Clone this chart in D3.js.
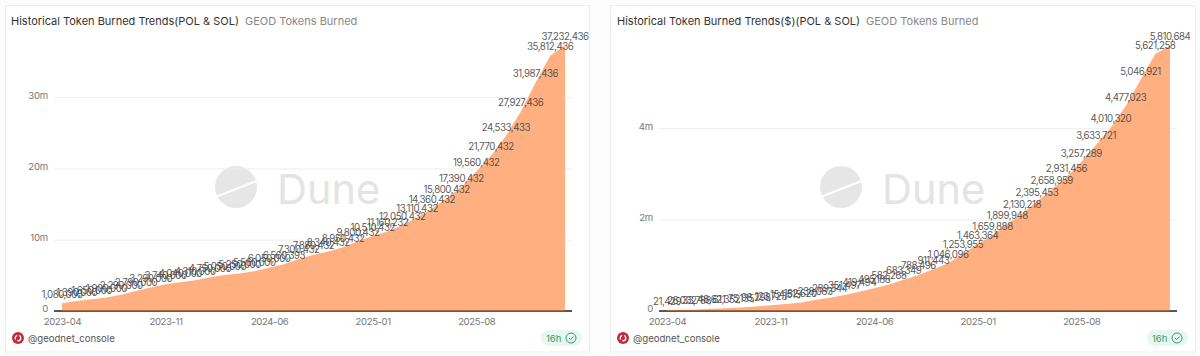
<!DOCTYPE html>
<html><head><meta charset="utf-8">
<script src="https://cdn.jsdelivr.net/npm/d3@7"></script>
<style>
html,body{margin:0;padding:0;background:#fcfcfc;width:1200px;height:356px;overflow:hidden}
svg{display:block}
text{font-family:Inter,"Noto Sans",sans-serif}
</style></head><body><svg id="c" width="1200" height="356"></svg>
<script>
const months = ["2023-04","2023-05","2023-06","2023-07","2023-08","2023-09","2023-10","2023-11","2023-12","2024-01","2024-02","2024-03","2024-04","2024-05","2024-06","2024-07","2024-08","2024-09","2024-10","2024-11","2024-12","2025-01","2025-02","2025-03","2025-04","2025-05","2025-06","2025-07","2025-08","2025-09","2025-10","2025-11","2025-12","2026-01","2026-02"];
const xTicks = ["2023-04","2023-11","2024-06","2025-01","2025-08"];
const tokenValues = [1080000,1390000,1650000,1900000,2290000,2790000,3290000,3740000,4040000,4310000,4750000,5050000,5250000,5560000,6050000,6560393,7300432,7880432,8340432,8950432,9800432,10510432,11160232,12050432,13110432,14360432,15800432,17390432,19560432,21770432,24533433,27927436,31987436,35812436,37232436];
const usdValues = [21429,26032,33788,48621,61352,75135,98298,123723,154515,182620,238083,289344,351497,419494,495188,582268,683349,788496,911443,1046096,1253955,1463364,1659888,1899948,2130218,2395453,2658959,2931456,3257289,3633721,4010320,4477023,5046921,5621258,5810684];
const tokenTicks = [0,10e6,20e6,30e6];
const usdTicks = [0,2e6,4e6];
const titles = ["Historical Token Burned Trends(POL & SOL)","Historical Token Burned Trends($)(POL & SOL)"];
const subtitle = "GEOD Tokens Burned";
const owner = "@geodnet_console";
const age = "16h";

const svg = d3.select("#c");
const panels = [
 {ox:5,w:584,x0:62,x1:565,vals:tokenValues,ticks:tokenTicks,max:37232436,top:45.6,title:titles[0],tx:11},
 {ox:610,w:585,x0:667,x1:1170,vals:usdValues,ticks:usdTicks,max:5810684,top:45.4,title:titles[1],tx:617}
];
const fmtTick = v => v===0 ? "0" : (v/1e6)+"m";
const fmtVal = d3.format(",");
panels.forEach(p=>{
  const g = svg.append("g");
  g.append("rect").attr("x",p.ox+.5).attr("y",5.5).attr("width",p.w).attr("height",346.5).attr("fill","#fff").attr("stroke","#efefef");
  const y0=311;
  const x=d3.scalePoint().domain(months).range([p.x0,p.x1]);
  const y=d3.scaleLinear().domain([0,p.max]).range([y0,p.top]);
  const lineL=p.x0-8, lineR=p.x1+7;
  // watermark
  const wx=p.ox+231;
  const wm=g.append("g").attr("transform",`translate(${wx},187)`);
  wm.append("circle").attr("r",21).attr("fill","#e6e6e6");
  wm.append("line").attr("x1",-23).attr("y1",11).attr("x2",23).attr("y2",-7).attr("stroke","#fff").attr("stroke-width",2.2);
  wm.append("text").attr("x",41).attr("y",17).attr("font-size",41.5).attr("font-weight",400).attr("fill","#e4e4e4").text("Dune");
  // y axis
  const ay=g.append("g").attr("transform",`translate(${lineL},0)`).call(d3.axisLeft(y).tickValues(p.ticks).tickFormat(fmtTick).tickSize(-(lineR-lineL)).tickPadding(6));
  ay.select(".domain").remove();
  ay.selectAll("line").attr("stroke","#eeeeee");
  ay.selectAll("text").attr("fill","#777").attr("font-size",9.6).attr("letter-spacing","-0.2px").attr("dy","0.1em").style("font-family","Inter");
  // x axis
  const ax=g.append("g").attr("transform",`translate(0,${y0})`).call(d3.axisBottom(x).tickValues(xTicks).tickSize(0).tickPadding(7));
  ax.select(".domain").remove();
  ax.selectAll("text").attr("fill","#777").attr("font-size",9.6).attr("letter-spacing","-0.4px").style("font-family","Inter");
  g.append("line").attr("x1",lineL).attr("x2",lineR).attr("y1",y0).attr("y2",y0).attr("stroke","#222").attr("stroke-width",1.5);
  // area
  const area=d3.area().x((d,i)=>x(months[i])).y0(y0).y1(d=>y(d));
  g.append("path").datum(p.vals).attr("d",area).attr("fill","#ffac7b").attr("fill-opacity",.96);
  g.append("line").attr("x1",p.x0).attr("x2",p.x1).attr("y1",y0).attr("y2",y0).attr("stroke","#8a5232").attr("stroke-width",1.5);
  // labels
  g.append("g").selectAll("text").data(p.vals).join("text")
    .attr("x",(d,i)=>x(months[i])).attr("y",d=>y(d)-5.5)
    .attr("text-anchor","middle").attr("font-size",9.7).attr("letter-spacing","-0.48px").attr("fill","#444").attr("fill-opacity",.9)
    .text(d=>fmtVal(d));
  // titles
  const t=g.append("text").attr("x",p.tx).attr("y",24.5).attr("font-size",11).attr("fill","#333").text(p.title);
  g.append("text").attr("x",t.node().getComputedTextLength()+p.tx+6).attr("y",24.5).attr("font-size",11).attr("fill","#888").text(subtitle);
  // footer
  const fx=p.ox+13;
  g.append("circle").attr("cx",fx).attr("cy",338).attr("r",6).attr("fill","#c8283c");
  g.append("circle").attr("cx",fx).attr("cy",338).attr("r",2.8).attr("fill","none").attr("stroke","#fff").attr("stroke-width",1.3).attr("stroke-dasharray","5 2");
  g.append("text").attr("x",fx+10).attr("y",341.5).attr("font-size",9.6).attr("fill","#555").text(owner);
  // badge
  const bx=p.ox+p.w-48;
  g.append("rect").attr("x",bx).attr("y",330).attr("width",41).attr("height",16).attr("rx",8).attr("fill","#e8f7ef");
  g.append("text").attr("x",bx+5).attr("y",341.5).attr("font-size",9.5).attr("fill","#2f9e72").text(age);
  g.append("circle").attr("cx",bx+30).attr("cy",338).attr("r",5).attr("fill","none").attr("stroke","#2f9e72").attr("stroke-width",1);
  g.append("path").attr("d",`M${bx+28} 338l1.6 1.6 3-3`).attr("fill","none").attr("stroke","#2f9e72").attr("stroke-width",1);
});
</script></body></html>
